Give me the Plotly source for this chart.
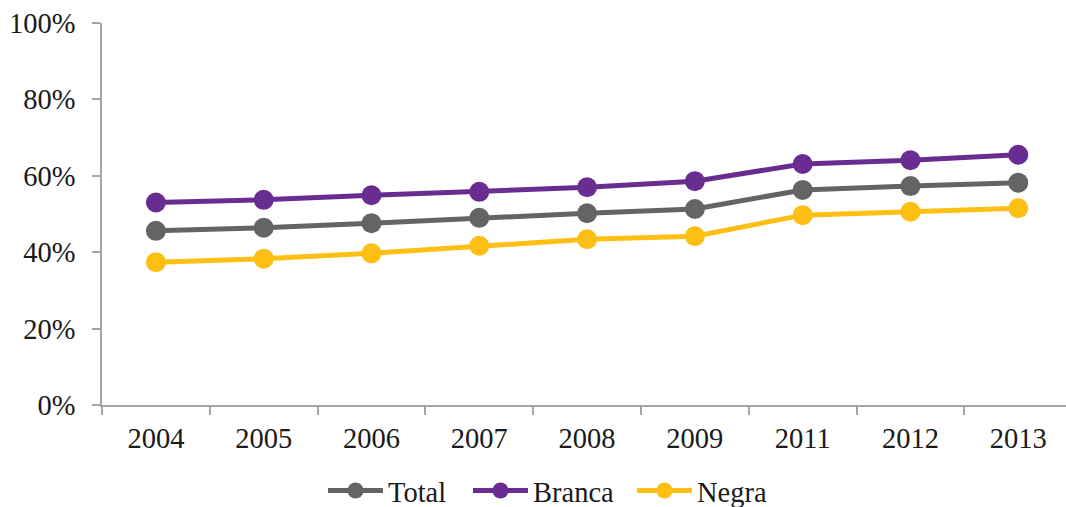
import plotly.graph_objects as go

# Survey years and share (%) for each group
years = ["2004", "2005", "2006", "2007", "2008", "2009", "2011", "2012", "2013"]
total = [45.6, 46.4, 47.6, 49.0, 50.2, 51.3, 56.3, 57.3, 58.2]
branca = [53.0, 53.7, 54.9, 55.8, 57.0, 58.6, 63.1, 64.1, 65.5]
negra = [37.4, 38.3, 39.7, 41.7, 43.4, 44.2, 49.7, 50.6, 51.5]

y_ticks = [0, 0.2, 0.4, 0.6, 0.8, 1.0]

# name, values, colour, legend id, left edge of legend entry (px)
series = [
    ("Total", total, "#636466", "legend", 323),
    ("Branca", branca, "#692D91", "legend2", 468),
    ("Negra", negra, "#FDBF14", "legend3", 632),
]

FONT = "Liberation Serif, Times New Roman, serif"
FS = 28.5
L, R, T, B = 102, 0, 23, 102
W, H = 1066, 507
plot_w = W - L - R
plot_h = H - T - B

fig = go.Figure()
legends = {}
for name, vals, color, leg, left_px in series:
    fig.add_trace(go.Scatter(
        x=years,
        y=[v / 100 for v in vals],
        name=name,
        legend=leg,
        mode="lines+markers",
        line=dict(color=color, width=5),
        marker=dict(color=color, size=20),
    ))
    legends[leg] = dict(
        orientation="h",
        x=(left_px - L) / plot_w,
        xanchor="left",
        y=-(491 - (H - B)) / plot_h,
        yanchor="middle",
        font=dict(family=FONT, size=FS, color="#1a1a1a"),
        itemwidth=55,
        bgcolor="rgba(0,0,0,0)",
    )

fig.update_layout(
    width=W,
    height=H,
    margin=dict(l=L, r=R, t=T, b=B, autoexpand=False),
    paper_bgcolor="white",
    plot_bgcolor="white",
    font=dict(family=FONT, size=FS, color="#1a1a1a"),
    showlegend=True,
    **legends,
)

fig.update_xaxes(
    type="category",
    range=[-0.5, 8.443],
    showgrid=False,
    showline=True,
    linecolor="#a6a6a6",
    linewidth=1.5,
    ticks="outside",
    tickson="boundaries",
    ticklen=8,
    tickcolor="#a6a6a6",
    tickwidth=1.5,
    ticklabelstandoff=7,
    tickfont=dict(family=FONT, size=FS, color="#1a1a1a"),
    zeroline=False,
)

fig.update_yaxes(
    range=[0, 1],
    tickvals=y_ticks,
    tickformat=".0%",
    showgrid=False,
    showline=True,
    linecolor="#a6a6a6",
    linewidth=1.5,
    ticks="outside",
    ticklen=8,
    tickcolor="#a6a6a6",
    tickwidth=1.5,
    ticklabelstandoff=11,
    tickfont=dict(family=FONT, size=FS, color="#1a1a1a"),
    zeroline=False,
)

fig.write_html("out.html")
